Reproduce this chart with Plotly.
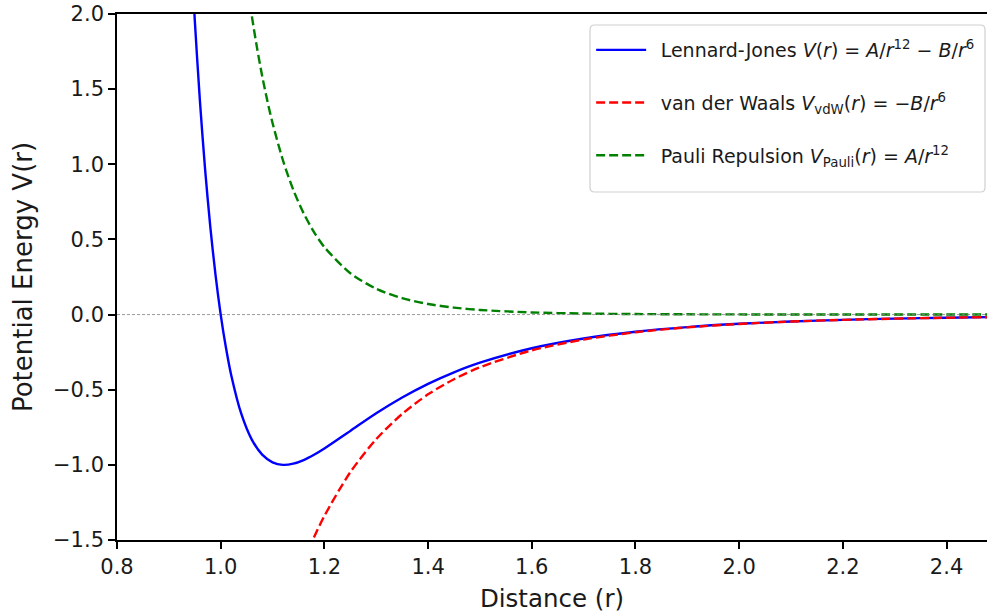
import plotly.graph_objects as go

r_lj = [0.94, 0.95, 0.96, 0.97, 0.98, 0.99, 1.00, 1.01, 1.02, 1.04, 1.06, 1.08, 1.10,
        1.12, 1.14, 1.16, 1.18, 1.20, 1.25, 1.30, 1.35, 1.40, 1.45, 1.50, 1.60,
        1.70, 1.80, 1.90, 2.00, 2.10, 2.20, 2.30, 2.40, 2.50]
v_lj = [2.606, 1.961, 1.418, 0.963, 0.582, 0.264, 0.000, -0.218, -0.398, -0.663,
        -0.832, -0.932, -0.983, -1.000, -0.992, -0.968, -0.933, -0.891, -0.774,
        -0.657, -0.552, -0.461, -0.384, -0.320, -0.224, -0.159, -0.114, -0.0832,
        -0.0615, -0.0461, -0.0350, -0.0268, -0.0208, -0.0163]

r_vdw = [1.16, 1.18, 1.20, 1.25, 1.30, 1.35, 1.40, 1.45, 1.50, 1.60, 1.70, 1.80,
         1.90, 2.00, 2.10, 2.20, 2.30, 2.40, 2.50]
v_vdw = [-1.642, -1.482, -1.340, -1.049, -0.829, -0.661, -0.531, -0.430, -0.351,
         -0.238, -0.166, -0.118, -0.085, -0.0625, -0.0466, -0.0353, -0.0270,
         -0.0209, -0.0164]

r_pauli = [1.04, 1.05, 1.06, 1.07, 1.08, 1.09, 1.10, 1.12, 1.14, 1.16, 1.18, 1.20,
           1.25, 1.30, 1.35, 1.40, 1.45, 1.50, 1.60, 1.70, 1.80, 1.90, 2.00, 2.20,
           2.50]
v_pauli = [2.498, 2.227, 1.988, 1.776, 1.588, 1.422, 1.275, 1.027, 0.830, 0.674,
           0.549, 0.449, 0.275, 0.172, 0.109, 0.0706, 0.0463, 0.0308, 0.0142,
           0.0069, 0.0035, 0.0018, 0.00098, 0.0003, 0.00007]

baseline = 0.0

x_ticks = [0.8, 1.0, 1.2, 1.4, 1.6, 1.8, 2.0, 2.2, 2.4]
y_ticks = [-1.5, -1.0, -0.5, 0.0, 0.5, 1.0, 1.5, 2.0]

names = [
    "Lennard-Jones <i>V</i>(<i>r</i>) = <i>A</i>/<i>r</i><sup>12</sup> − <i>B</i>/<i>r</i><sup>6</sup>",
    "van der Waals <i>V</i><sub>vdW</sub>(<i>r</i>) = −<i>B</i>/<i>r</i><sup>6</sup>",
    "Pauli Repulsion <i>V</i><sub>Pauli</sub>(<i>r</i>) = <i>A</i>/<i>r</i><sup>12</sup>",
]

FONT = "DejaVu Sans, sans-serif"
TXT = "#1a1a1a"
PAD = "\u2002"  # small lead-in so legend text starts where the reference's does

fig = go.Figure()
fig.add_trace(go.Scatter(x=r_lj, y=v_lj, mode="lines", name=PAD + names[0], legendgroup="a",
                         line=dict(color="#0000ff", width=2.4, shape="spline", smoothing=0.8)))
fig.add_trace(go.Scatter(x=r_vdw, y=v_vdw, mode="lines", name=PAD + names[1], legendgroup="b",
                         line=dict(color="#ff0000", width=2.4, dash="9px,4px", shape="spline", smoothing=0.8)))
fig.add_trace(go.Scatter(x=r_pauli, y=v_pauli, mode="lines", name=PAD + names[2], legendgroup="c",
                         line=dict(color="#008000", width=2.4, dash="9px,4px", shape="spline", smoothing=0.8)))

fig.add_shape(type="line", xref="paper", x0=0, x1=1, yref="y", y0=baseline, y1=baseline,
              line=dict(color="gray", width=0.8, dash="3px,2px"))

# legend frame (rounded box like the reference)
x0, x1, y0, y1 = 0.5437, 0.9977, 0.6616, 0.9791
rx, ry = 0.0052, 0.0086
frame = (f"M{x0+rx},{y1} L{x1-rx},{y1} Q{x1},{y1} {x1},{y1-ry} "
         f"L{x1},{y0+ry} Q{x1},{y0} {x1-rx},{y0} L{x0+rx},{y0} Q{x0},{y0} {x0},{y0+ry} "
         f"L{x0},{y1-ry} Q{x0},{y1} {x0+rx},{y1} Z")
fig.add_shape(type="path", xref="paper", yref="paper", path=frame,
              line=dict(color="#d0d0d0", width=1.2), fillcolor="rgba(255,255,255,0.8)")

fig.update_layout(
    width=987, height=613,
    margin=dict(l=117, r=0, t=14, b=73),
    paper_bgcolor="white", plot_bgcolor="white",
    font=dict(family=FONT, size=20, color=TXT),
    legend=dict(x=0.545, y=0.9677, xanchor="left", yanchor="top",
                bgcolor="rgba(0,0,0,0)", borderwidth=0,
                font=dict(family=FONT, size=19, color=TXT),
                itemwidth=50,
                traceorder="grouped", tracegroupgap=25),
    showlegend=True,
)
fig.update_xaxes(range=[0.8, 2.478], tickvals=x_ticks, tickformat=".1f",
                 showline=True, linecolor="black", linewidth=1.6, mirror=True,
                 ticks="outside", ticklen=7, tickwidth=1.6, tickcolor="black",
                 showgrid=False, zeroline=False,
                 tickfont=dict(family=FONT, size=21, color=TXT),
                 title=dict(text="Distance (r)", font=dict(family=FONT, size=24.5, color=TXT), standoff=12))
fig.update_yaxes(range=[-1.5, 2.0], tickvals=y_ticks, tickformat=".1f",
                 showline=True, linecolor="black", linewidth=1.6, mirror=False,
                 ticks="outside", ticklen=7, tickwidth=1.6, tickcolor="black",
                 showgrid=False, zeroline=False,
                 tickfont=dict(family=FONT, size=21, color=TXT),
                 title=dict(text="Potential Energy V(r)", font=dict(family=FONT, size=26, color=TXT), standoff=13))

fig.write_html("out.html")
